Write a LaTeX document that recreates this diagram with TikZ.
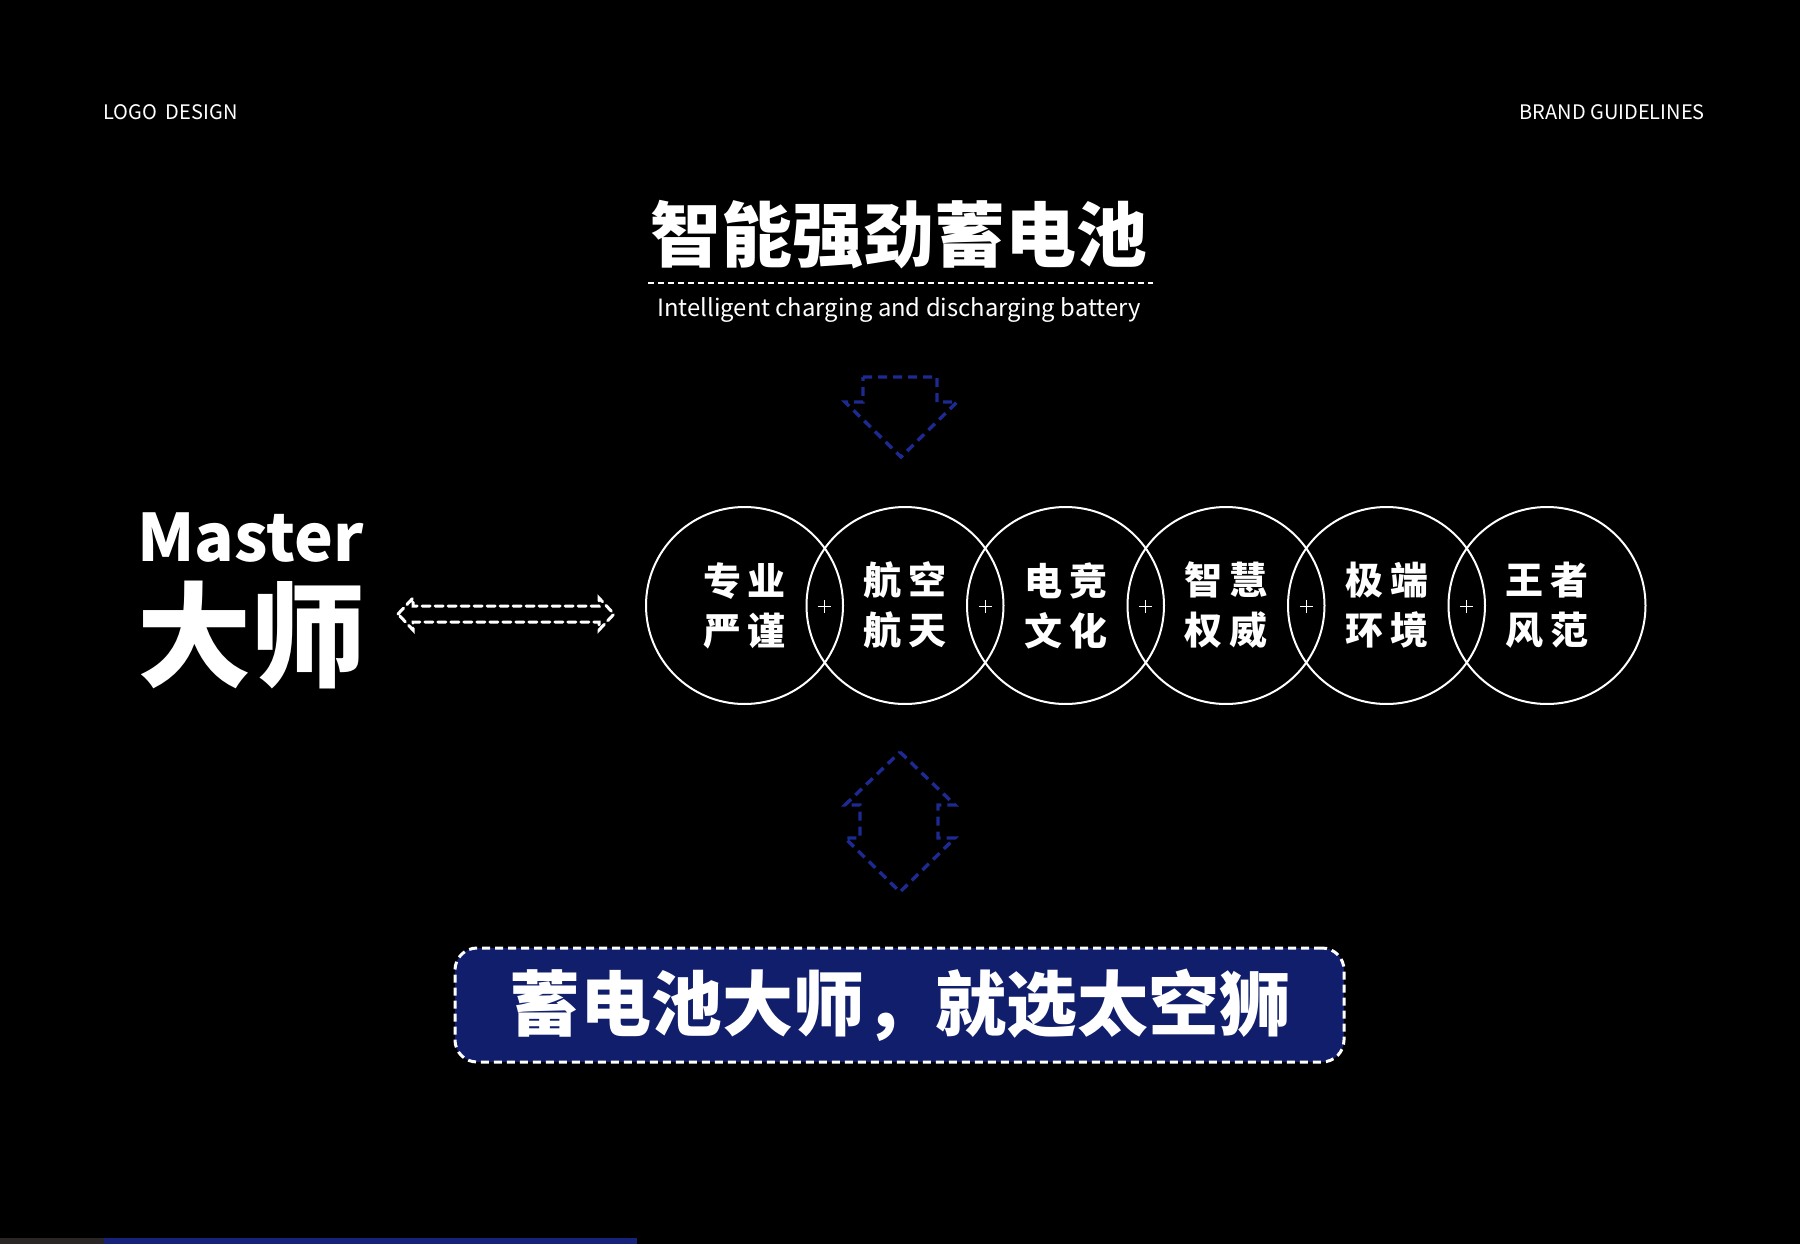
\documentclass[tikz,border=0pt]{standalone}
\usepackage{fontspec}
\newfontfamily\cjk{Noto Sans CJK SC}
\definecolor{arrowblue}{RGB}{28,42,145}
\definecolor{boxblue}{RGB}{17,30,107}
\definecolor{stripblue}{RGB}{23,35,122}
\definecolor{stripgray}{RGB}{42,38,38}
\tikzset{
  lbl/.style={text=white, inner sep=0pt},
  ring/.style={circle, draw=white, line width=2pt, minimum size=197pt, inner sep=0pt},
  ringtxt/.style={lbl, align=center, font=\cjk\bfseries\fontsize{38}{50}\selectfont},
  bluearrow/.style={draw=arrowblue, line width=3.4pt, dash pattern=on 9pt off 6pt, line join=miter},
  whitearrow/.style={draw=white, line width=3pt, dash pattern=on 8pt off 5pt, line cap=round},
}
\begin{document}
\begin{tikzpicture}[x=1pt,y=-1pt]
\fill[black] (0,0) rectangle (1800,1244);
\useasboundingbox (0,0) rectangle (1800,1244);

% header
\node[lbl, anchor=west, font=\cjk\fontsize{20}{20}\selectfont] (logo) at (103,112) {LOGO\ \ DESIGN};
\node[lbl, anchor=east, font=\cjk\fontsize{20}{20}\selectfont] (brand) at (1705,112) {BRAND GUIDELINES};

% title
\node[lbl, font=\cjk\bfseries\fontsize{71}{71}\selectfont] (title) at (899,235) {智能强劲蓄电池};
\coordinate (dl) at (648,283);
\coordinate (dr) at (1153,283);
\draw[white, line width=1.5pt, dash pattern=on 6pt off 4pt] (dl) -- (dr);
\node[lbl, font=\cjk\fontsize{23.8}{24}\selectfont] (sub) at (899,310) {Intelligent charging and discharging battery};

% down arrow
\draw[bluearrow] (863,377) -- (937,377) -- (937,402) -- (957,402) -- (901,457) -- (845,402) -- (863,402) -- cycle;

% Master
\node[lbl, anchor=south west, font=\cjk\bfseries\fontsize{65.5}{66}\selectfont] (master) at (137,563) {Master};
\node[lbl, font=\cjk\bfseries\fontsize{114}{114}\selectfont] (dashi) at (251,635) {大师};

% double arrow
\draw[whitearrow] (398,614) -- (413,598) -- (413,606) -- (599,606) -- (599,598) -- (614,614) -- (599,630) -- (599,622) -- (413,622) -- (413,630) -- cycle;

% circles
\foreach \i in {0,...,5} {
  \node[ring] (c\i) at ({744.5+160.5*\i},605.5) {};
}
\foreach \i in {0,...,4} {
  \coordinate (p\i) at ({824.75+160.5*\i},606.5);
  \draw[white, line width=1.3pt] ([xshift=-6.5pt]p\i) -- ([xshift=6.5pt]p\i);
  \draw[white, line width=1.3pt] ([yshift=-6.5pt]p\i) -- ([yshift=6.5pt]p\i);
}
\node[ringtxt] (t0) at (c0) {专\kern7pt业\\严\kern7pt谨};
\node[ringtxt] (t1) at (c1) {航\kern7pt空\\航\kern7pt天};
\node[ringtxt] (t2) at (c2) {电\kern7pt竞\\文\kern7pt化};
\node[ringtxt] (t3) at (c3) {智\kern7pt慧\\权\kern7pt威};
\node[ringtxt] (t4) at (c4) {极\kern7pt端\\环\kern7pt境};
\node[ringtxt] (t5) at (c5) {王\kern7pt者\\风\kern7pt范};

% up-down arrow
\draw[bluearrow] (900,752) -- (955,805) -- (938,805) -- (938,838) -- (955,838) -- (900,892) -- (845,838) -- (860,838) -- (860,805) -- (845,805) -- cycle;

% bottom box
\node[rounded corners=22pt, fill=boxblue, draw=white, line width=3pt, dash pattern=on 8pt off 5pt, minimum width=889pt, minimum height=114pt, inner sep=0pt] (box) at (899.5,1005) {};
\node[lbl, font=\cjk\bfseries\fontsize{71}{71}\selectfont] (slogan) at (900,1005) {蓄电池大师，就选太空狮};

% bottom strip
\fill[stripgray] (0,1238) rectangle (104,1244);
\fill[stripblue] (104,1238) rectangle (637,1244);
\end{tikzpicture}
\end{document}
